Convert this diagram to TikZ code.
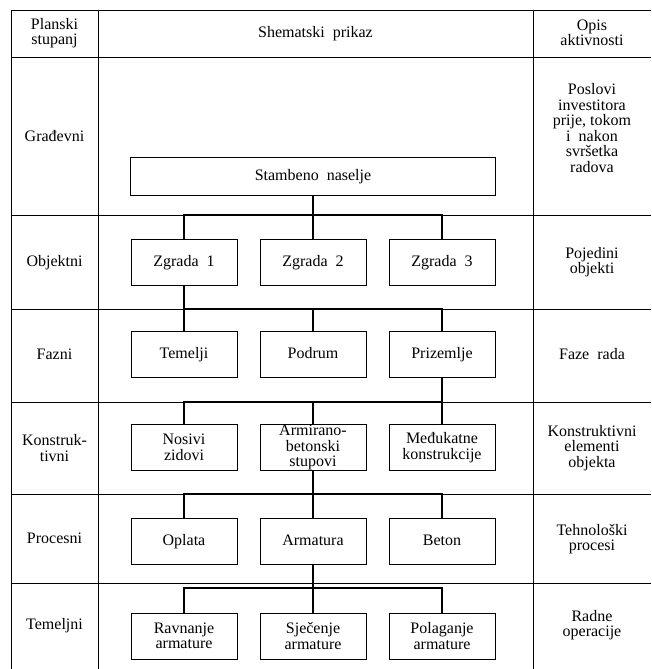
\documentclass[tikz,border=0pt]{standalone}
\usepackage{fontspec}
\setmainfont{Liberation Serif}
\usetikzlibrary{positioning}

\begin{document}
\begin{tikzpicture}[x=1pt, y=-1pt, node distance=129pt,
    box/.style={draw, line width=1pt, minimum width=106pt, minimum height=46pt, inner sep=0pt, align=center, font=\fontsize{16}{15.5}\selectfont},
    cell/.style={align=center, font=\fontsize{16}{15.5}\selectfont},
    oneline/.style={text height=10pt, text depth=1pt},
    link/.style={line width=1.8pt},
    grid/.style={line width=0.8pt}]
  \useasboundingbox (0,0) rectangle (651,669);

  % table lines
  \foreach \y in {10,57,215,309,402,494,583}
    \draw[grid] (11,\y) -- (651,\y);
  \foreach \x in {11,98,533}
    \draw[grid] (\x,10) -- (\x,669);

  % header and side columns
  \node[cell] (h1) at (54.5,33) {Planski\\stupanj};
  \node[cell, oneline] (h2) at (315.5,33) {Shematski\ \ prikaz};
  \node[cell] (h3) at (592,33) {Opis\\aktivnosti};

  \node[cell, oneline] (s1) at (54.5,137) {Građevni};
  \node[cell, oneline] (s2) at (54.5,262) {Objektni};
  \node[cell, oneline] (s3) at (54.5,355) {Fazni};
  \node[cell] (s4) at (54.5,448) {Konstruk-\\tivni};
  \node[cell, oneline] (s5) at (54.5,539) {Procesni};
  \node[cell, oneline] (s6) at (54.5,625) {Temeljni};

  \node[cell] (d1) at (592,128) {Poslovi\\investitora\\prije,\ tokom\\i\ \ nakon\\svršetka\\radova};
  \node[cell] (d2) at (592,262) {Pojedini\\objekti};
  \node[cell, oneline] (d3) at (592,355) {Faze\ \ rada};
  \node[cell] (d4) at (592,448) {Konstruktivni\\elementi\\objekta};
  \node[cell] (d5) at (592,539) {Tehnološki\\procesi};
  \node[cell] (d6) at (592,625) {Radne\\operacije};

  % tree
  \node[box, oneline, minimum width=365pt, minimum height=38pt] (sn) at (313,176) {Stambeno\ \ naselje};

  \node[box, oneline] (z1) at (184,262) {Zgrada\ \ 1};
  \node[box, oneline] (z2) [right of=z1] {Zgrada\ \ 2};
  \node[box, oneline] (z3) [right of=z2] {Zgrada\ \ 3};

  \node[box, oneline] (t1) at (184,354) {Temelji};
  \node[box, oneline] (t2) [right of=t1] {Podrum};
  \node[box, oneline] (t3) [right of=t2] {Prizemlje};

  \node[box] (k1) at (184,447.5) {Nosivi\\zidovi};
  \node[box] (k2) [right of=k1] {Armirano-\\betonski\\stupovi};
  \node[box] (k3) [right of=k2] {Međukatne\\konstrukcije};

  \node[box, oneline] (p1) at (184,541) {Oplata};
  \node[box, oneline] (p2) [right of=p1] {Armatura};
  \node[box, oneline] (p3) [right of=p2] {Beton};

  \node[box] (o1) at (184,636) {Ravnanje\\armature};
  \node[box] (o2) [right of=o1] {Sječenje\\armature};
  \node[box] (o3) [right of=o2] {Polaganje\\armature};

  \coordinate (bus1) at (0,215);
  \coordinate (bus2) at (0,309);
  \coordinate (bus3) at (0,402);
  \coordinate (bus4) at (0,494);
  \coordinate (bus5) at (0,588);

  \draw[link] (sn) -- (sn |- bus1);
  \draw[link] (z1) |- (bus1 -| z3) -- (z3);
  \draw[link] (z2) -- (z2 |- bus1);

  \draw[link] (z1) -- (t1);
  \draw[link] (t1 |- bus2) -| (t3);
  \draw[link] (t2) -- (t2 |- bus2);

  \draw[link] (t3) -- (k3);
  \draw[link] (k1) |- (bus3 -| t3);
  \draw[link] (k2) -- (k2 |- bus3);

  \draw[link] (k2) -- (p2);
  \draw[link] (p1) |- (bus4 -| p3) -- (p3);

  \draw[link] (p2) -- (o2);
  \draw[link] (o1) |- (bus5 -| o3) -- (o3);
\end{tikzpicture}
\end{document}
